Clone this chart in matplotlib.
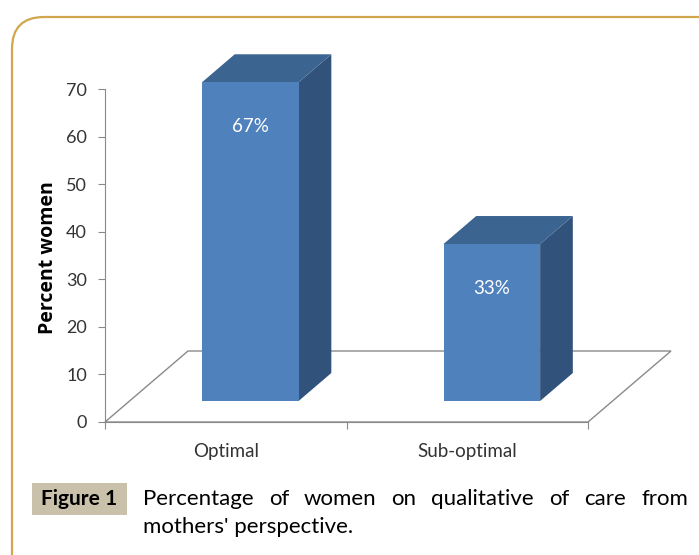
import matplotlib
matplotlib.use("Agg")
import matplotlib.pyplot as plt
from matplotlib.patches import Polygon, FancyBboxPatch, Rectangle
from matplotlib.transforms import IdentityTransform

plt.rcParams['font.family'] = ['Lato', 'DejaVu Sans']

# ---- data ----
categories = ["Optimal", "Sub-optimal"]
values = [67, 33]
bar_labels = ["67%", "33%"]
yticks = [0, 10, 20, 30, 40, 50, 60, 70]
ylabel = "Percent women"
fig_label = "Figure 1"
caption_line1 = "Percentage of women on qualitative of care from"
caption_line2 = "mothers' perspective."

W, H = 699, 555
fig = plt.figure(figsize=(W / 100, H / 100), dpi=100)

ax = fig.add_axes([105 / W, 1 - 422 / H, (588 - 105) / W, (422 - 89) / H])
ax.set_xlim(0, 2)
ax.set_ylim(0, 70)
ax.patch.set_visible(False)

gray = '#8a8a8a'
for s in ['top', 'right']:
    ax.spines[s].set_visible(False)
ax.spines['left'].set_color(gray)
ax.spines['bottom'].set_color(gray)
ax.spines['left'].set_zorder(5)

ax.set_yticks(yticks)
ax.tick_params(axis='y', direction='out', length=5, color=gray, labelsize=13,
               labelcolor='#333333', pad=8)
ax.set_xticks([0, 1, 2])
ax.set_xticklabels([])
ax.tick_params(axis='x', which='major', direction='out', length=5, color=gray)
ax.set_xticks([0.5, 1.5], minor=True)
ax.set_xticklabels(categories, minor=True)
ax.tick_params(axis='x', which='minor', length=0, labelsize=13.5,
               labelcolor='#333333', pad=15)

# floor geometry (depth offset in data units)
Dx = 83 / 241.5
Dy = 71 / (333 / 70)
floor = Polygon([(0, 0), (2, 0), (2 + Dx, Dy), (Dx, Dy)], closed=True,
                facecolor='white', edgecolor=gray, lw=1.0, clip_on=False, zorder=1)
ax.add_patch(floor)

f0, f1 = 0.296, 0.69
w = 0.4
front_c, top_c, side_c = '#4f81bd', '#3c6491', '#31527a'
for i, (v, lab) in enumerate(zip(values, bar_labels)):
    x0 = i + 0.5 - w / 2 + f0 * Dx
    x1 = x0 + w
    yb = f0 * Dy
    yt = v + f0 * Dy
    ddx = (f1 - f0) * Dx
    ddy = (f1 - f0) * Dy
    ax.add_patch(Polygon([(x1, yb), (x1 + ddx, yb + ddy), (x1 + ddx, yt + ddy), (x1, yt)],
                         closed=True, facecolor=side_c, edgecolor='none', clip_on=False, zorder=2))
    ax.add_patch(Polygon([(x0, yt), (x1, yt), (x1 + ddx, yt + ddy), (x0 + ddx, yt + ddy)],
                         closed=True, facecolor=top_c, edgecolor='none', clip_on=False, zorder=2))
    ax.add_patch(Polygon([(x0, yb), (x1, yb), (x1, yt), (x0, yt)],
                         closed=True, facecolor=front_c, edgecolor='none', clip_on=False, zorder=3))
    ax.text((x0 + x1) / 2, yt - 9.4, lab, ha='center', va='center', color='white',
            fontsize=13.5, zorder=4)

fig.text(48 / W, 1 - 258 / H, ylabel, rotation=90, ha='center', va='center',
         fontsize=14, fontweight='bold', color='black', family=['Open Sans', 'DejaVu Sans'])

# rounded border
border = FancyBboxPatch((12, -60), 800, (H - 17) + 60, boxstyle="round,pad=0,rounding_size=32",
                        transform=IdentityTransform(), facecolor='none',
                        edgecolor='#d1a64c', lw=1.6)
fig.patches.append(border)

# figure label box
fig.patches.append(Rectangle((32 / W, 1 - 515 / H), (127 - 32) / W, (515 - 483) / H,
                             transform=fig.transFigure, facecolor='#c9c1a9', edgecolor='none'))
fig.text(79.5 / W, 1 - 499 / H, fig_label, ha='center', va='center', fontsize=15,
         fontweight='bold', color='black')

# justified caption line 1
renderer = fig.canvas.get_renderer()
words = caption_line1.split()
texts = [fig.text(0, 1 - 499 / H, wd, ha='left', va='center', fontsize=16, color='black')
         for wd in words]
widths = [t.get_window_extent(renderer).width for t in texts]
left, right = 143, 688
gap = (right - left - sum(widths)) / (len(words) - 1)
x = left
for t, wd in zip(texts, widths):
    t.set_x(x / W)
    x += wd + gap
fig.text(143 / W, 1 - 527 / H, caption_line2, ha='left', va='center', fontsize=16,
         color='black')

fig.savefig("out.png", dpi=100)
